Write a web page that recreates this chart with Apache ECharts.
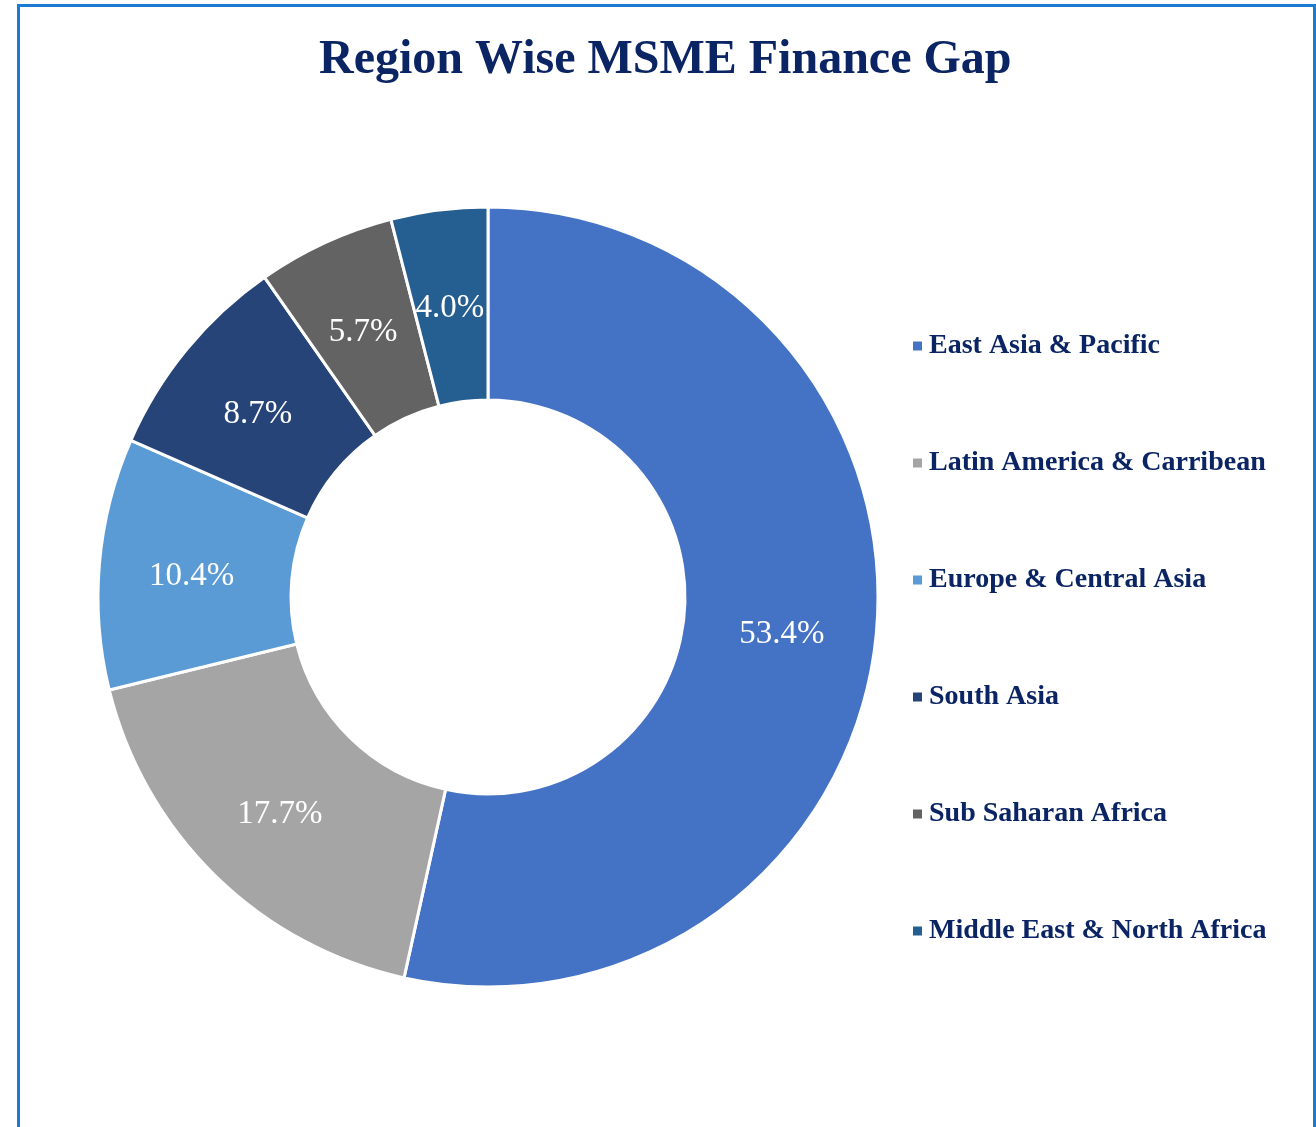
<!DOCTYPE html>
<html>
<head>
<meta charset="utf-8">
<script src="https://cdn.jsdelivr.net/npm/echarts@6/dist/echarts.min.js"></script>
<style>
  html, body { margin: 0; padding: 0; background: #fff; overflow: hidden; }
  #frame {
    position: absolute; left: 17px; top: 4px; width: 1293px; height: 1200px;
    border: 3px solid #1a7bd3; box-sizing: content-box;
  }
  #chart { position: absolute; left: 0; top: 0; width: 1316px; height: 1127px; }
</style>
</head>
<body>
<div id="frame"></div>
<div id="chart"></div>
<script>
// 地区
const regions = [
  'East Asia & Pacific',
  'Latin America & Carribean',
  'Europe & Central Asia',
  'South Asia',
  'Sub Saharan Africa',
  'Middle East & North Africa'
];
// 融资缺口占比 (%)
const shares = [53.4, 17.7, 10.4, 8.7, 5.7, 4.0];
const colors = ['#4472c4', '#a5a5a5', '#5b9bd5', '#264478', '#636363', '#255e91'];

const serif = '"Liberation Serif", "DejaVu Serif", serif';

const option = {
  animation: false,
  title: {
    text: 'Region Wise MSME Finance Gap',
    left: 314,
    top: 32,
    textStyle: {
      fontFamily: serif,
      fontWeight: 'bold',
      fontSize: 48,
      color: '#0b2463'
    }
  },
  legend: {
    orient: 'vertical',
    left: 908,
    top: 327,
    icon: 'rect',
    itemWidth: 9,
    itemHeight: 9,
    itemGap: 89,
    itemStyle: { borderWidth: 0 },
    data: regions,
    textStyle: {
      fontFamily: serif,
      fontWeight: 'bold',
      fontSize: 28,
      lineHeight: 28,
      color: '#0b2463',
      padding: [0, 0, 0, 2]
    }
  },
  series: [{
    type: 'pie',
    center: [488, 597],
    radius: [197, 390],
    startAngle: 90,
    clockwise: true,
    itemStyle: { borderColor: '#fff', borderWidth: 3 },
    label: {
      show: true,
      position: 'inside',
      formatter: p => p.value.toFixed(1) + '%',
      fontFamily: serif,
      fontSize: 33,
      color: '#fff',
      offset: [-1, 5]
    },
    labelLine: { show: false },
    data: regions.map((name, i) => ({
      name: name,
      value: shares[i],
      itemStyle: { color: colors[i] }
    }))
  }]
};

const chart = echarts.init(document.getElementById('chart'));
chart.setOption(option);
</script>
</body>
</html>
